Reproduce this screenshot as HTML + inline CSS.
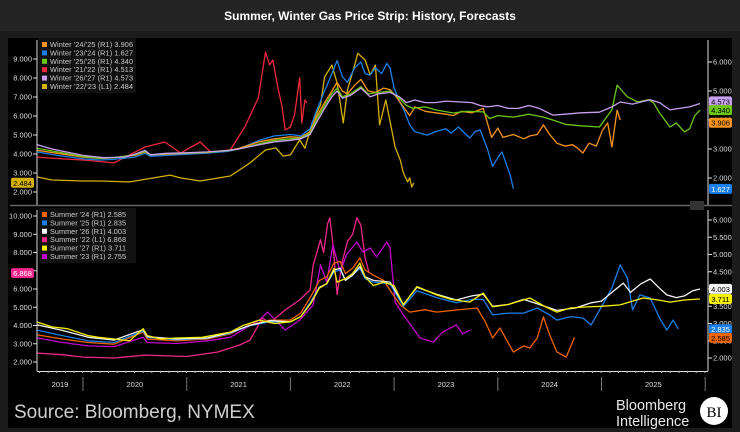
<!DOCTYPE html>
<html><head><meta charset="utf-8"><style>
html,body{margin:0;padding:0;background:#1c1c1c;}
svg{display:block;font-family:"Liberation Sans",sans-serif;}
</style></head><body>
<svg id="chart" width="740" height="432" viewBox="0 0 740 432">
<rect x="0" y="0" width="740" height="432" fill="#1c1c1c"/>
<rect x="0" y="0" width="740" height="31" fill="#242424"/>
<text x="370" y="20" text-anchor="middle" fill="#ffffff" font-size="12" font-weight="bold">Summer, Winter Gas Price Strip: History, Forecasts</text>
<rect x="8" y="38" width="724" height="390" fill="#000"/>
<g id="axes"></g>
<g id="series"></g>
<g id="legends"></g>
<g id="labels"></g>
<text x="14" y="418" fill="#cfcfcf" font-size="19">Source: Bloomberg, NYMEX</text>
<text x="616" y="410" fill="#e8e8e8" font-size="14.5">Bloomberg</text>
<text x="616" y="426" fill="#e8e8e8" font-size="14.5">Intelligence</text>
<circle cx="714" cy="411" r="14" fill="#fff"/>
<text x="714" y="417" text-anchor="middle" fill="#000" font-size="15" font-family="Liberation Serif, serif">BI</text>
</svg>
<script>
// ---------- DATA ----------
const yearLabels = ["2019","2020","2021","2022","2023","2024","2025"];
const topLeftTicks = [2,3,4,5,6,7,8,9];
const topRightTicks = [2,3,4,5,6];
const botLeftTicks = [2,3,4,5,6,7,8,9,10];
const botRightTicks = [2,2.5,3,3.5,4,4.5,5,5.5,6];

const w2425_t = [2019.56,2019.75,2020.0,2020.16,2020.3,2020.5,2020.6,2020.65,2020.8,2021.0,2021.2,2021.4,2021.5,2021.7,2021.85,2022.0,2022.1,2022.19,2022.25,2022.33,2022.4,2022.45,2022.5,2022.55,2022.62,2022.68,2022.75,2022.82,2022.9,2022.96,2023.02,2023.08,2023.15,2023.2,2023.3,2023.4,2023.5,2023.57,2023.65,2023.75,2023.86,2023.9,2023.94,2024.0,2024.05,2024.15,2024.25,2024.31,2024.38,2024.44,2024.5,2024.57,2024.65,2024.72,2024.78,2024.82,2024.88,2024.95,2025.01,2025.06,2025.1,2025.15,2025.18];
const w2425_v = [2.95,2.85,2.72,2.68,2.70,2.78,2.9,2.8,2.82,2.85,2.88,2.95,3.02,3.25,3.35,3.42,3.40,3.6,4.1,4.6,5.0,5.3,5.0,4.9,5.2,5.4,5.0,4.95,5.1,5.05,4.8,4.5,4.15,4.45,4.3,4.25,4.2,4.15,4.3,4.25,4.4,3.9,3.4,3.72,3.4,3.5,3.35,3.45,3.5,3.83,3.5,3.2,3.1,3.15,3.0,2.86,3.2,3.1,3.65,3.9,3.07,4.34,4.0];

const w2324_t = [2019.56,2019.75,2020.0,2020.16,2020.3,2020.5,2020.6,2020.65,2020.8,2021.0,2021.2,2021.4,2021.5,2021.7,2021.85,2022.0,2022.1,2022.19,2022.25,2022.33,2022.4,2022.45,2022.5,2022.55,2022.62,2022.68,2022.72,2022.77,2022.82,2022.88,2022.93,2022.96,2023.0,2023.06,2023.1,2023.15,2023.2,2023.32,2023.4,2023.5,2023.55,2023.62,2023.68,2023.73,2023.78,2023.83,2023.9,2023.95,2024.0,2024.04,2024.08,2024.12,2024.15];
const w2324_v = [2.9,2.78,2.66,2.62,2.64,2.72,2.85,2.75,2.78,2.82,2.86,2.92,3.0,3.3,3.45,3.5,3.45,3.7,4.3,5.0,5.6,6.05,5.5,5.3,5.8,6.0,5.6,5.55,5.8,5.6,5.95,5.8,5.1,4.59,4.3,3.83,3.6,3.48,3.6,3.7,3.55,3.76,3.55,3.38,3.6,3.66,3.0,2.4,2.7,2.9,2.5,2.1,1.63];

const w2526_t = [2019.56,2019.75,2020.0,2020.16,2020.3,2020.5,2020.6,2020.65,2020.8,2021.0,2021.2,2021.4,2021.5,2021.7,2021.85,2022.0,2022.1,2022.19,2022.25,2022.33,2022.4,2022.45,2022.5,2022.58,2022.68,2022.75,2022.85,2022.96,2023.05,2023.12,2023.18,2023.3,2023.4,2023.57,2023.7,2023.86,2023.92,2024.0,2024.15,2024.3,2024.44,2024.53,2024.65,2024.8,2024.98,2025.1,2025.15,2025.2,2025.25,2025.35,2025.45,2025.5,2025.56,2025.66,2025.72,2025.8,2025.85,2025.9,2025.95];
const w2526_v = [3.02,2.9,2.74,2.68,2.7,2.8,2.92,2.8,2.84,2.86,2.89,2.94,3.0,3.18,3.3,3.35,3.38,3.55,4.0,4.5,4.9,5.1,4.8,4.9,5.15,4.9,4.95,5.0,4.75,4.5,4.4,4.45,4.35,4.24,4.3,4.28,4.05,4.15,4.1,4.2,4.1,4.0,3.85,3.8,3.76,4.35,5.2,5.0,4.8,4.62,4.7,4.6,4.24,3.76,3.9,3.59,3.7,4.15,4.34];

const w2122_t = [2019.56,2019.8,2020.0,2020.3,2020.45,2020.6,2020.79,2020.94,2021.13,2021.23,2021.42,2021.56,2021.69,2021.76,2021.8,2021.83,2021.88,2021.92,2021.95,2022.0,2022.04,2022.09,2022.11,2022.14,2022.16];
const w2122_v = [2.72,2.66,2.62,2.52,2.8,3.07,3.24,2.86,3.24,2.9,2.97,3.76,4.76,6.34,5.9,6.07,5.1,4.45,3.66,3.76,4.17,5.45,3.9,4.69,4.59];

const w2627_t = [2019.56,2019.7,2020.0,2020.2,2020.4,2020.5,2020.6,2020.65,2020.8,2021.0,2021.2,2021.4,2021.5,2021.7,2021.85,2022.0,2022.1,2022.19,2022.25,2022.33,2022.4,2022.45,2022.5,2022.58,2022.68,2022.77,2022.85,2022.96,2023.05,2023.12,2023.2,2023.3,2023.4,2023.5,2023.64,2023.75,2023.83,2023.9,2024.0,2024.1,2024.2,2024.3,2024.4,2024.53,2024.65,2024.8,2024.98,2025.1,2025.18,2025.3,2025.47,2025.56,2025.66,2025.75,2025.85,2025.95];
const w2627_v = [3.15,3.0,2.78,2.7,2.72,2.82,2.95,2.8,2.85,2.87,2.9,2.95,3.0,3.15,3.25,3.3,3.35,3.5,3.9,4.4,4.8,5.0,4.75,4.85,5.1,4.8,4.9,4.95,4.8,4.6,4.69,4.6,4.6,4.65,4.62,4.6,4.5,4.45,4.5,4.4,4.4,4.5,4.4,4.17,4.2,4.25,4.27,4.45,4.62,4.55,4.7,4.6,4.35,4.4,4.45,4.57];

const w2223_t = [2019.56,2019.7,2020.0,2020.16,2020.45,2020.84,2020.94,2021.13,2021.42,2021.61,2021.76,2021.86,2021.93,2022.0,2022.09,2022.14,2022.21,2022.29,2022.33,2022.4,2022.45,2022.51,2022.55,2022.62,2022.65,2022.72,2022.77,2022.82,2022.86,2022.92,2023.01,2023.06,2023.09,2023.13,2023.15,2023.17,2023.19];
const w2223_v = [2.79,2.63,2.58,2.58,2.53,2.89,2.74,2.58,2.84,3.53,4.21,4.32,3.89,3.95,4.74,4.3,5.63,6.58,8.05,8.68,7.74,5.63,7.37,8.68,9.3,8.95,8.16,8.68,5.53,6.84,4.37,3.68,3.0,2.53,2.75,2.26,2.48];

const s24_t = [2019.56,2019.8,2020.05,2020.3,2020.58,2020.62,2020.9,2021.2,2021.42,2021.6,2021.8,2022.0,2022.1,2022.2,2022.28,2022.35,2022.42,2022.48,2022.53,2022.6,2022.67,2022.72,2022.8,2022.9,2022.99,2023.06,2023.15,2023.3,2023.41,2023.6,2023.8,2023.88,2023.95,2024.02,2024.15,2024.25,2024.31,2024.38,2024.44,2024.5,2024.57,2024.66,2024.71,2024.74];
const s24_v = [2.67,2.55,2.45,2.4,2.75,2.55,2.5,2.55,2.7,2.95,3.1,3.1,3.3,3.8,4.25,4.35,4.75,4.8,4.45,4.6,4.9,4.55,4.4,4.25,3.83,3.54,3.33,3.4,3.33,3.39,3.45,3.04,2.58,2.87,2.17,2.35,2.29,2.58,3.19,2.67,2.17,2.03,2.38,2.6];

const s25_t = [2019.56,2019.8,2020.05,2020.3,2020.58,2020.62,2020.9,2021.2,2021.42,2021.6,2021.8,2022.0,2022.1,2022.2,2022.28,2022.35,2022.42,2022.48,2022.53,2022.6,2022.67,2022.72,2022.8,2022.96,2023.09,2023.22,2023.41,2023.6,2023.75,2023.86,2023.95,2024.1,2024.25,2024.38,2024.5,2024.57,2024.7,2024.82,2024.9,2025.01,2025.1,2025.18,2025.25,2025.3,2025.37,2025.47,2025.56,2025.63,2025.69,2025.74];
const s25_v = [2.81,2.65,2.5,2.45,2.78,2.6,2.53,2.57,2.72,2.93,3.05,3.05,3.2,3.65,4.05,4.15,4.5,4.55,4.25,4.4,4.6,4.3,4.2,4.15,3.5,3.95,3.75,3.6,3.7,3.7,3.25,3.3,3.3,3.45,3.25,3.1,3.2,3.16,2.96,3.54,4.03,4.7,4.32,3.39,3.83,3.74,3.16,2.81,3.1,2.84];

const s26_t = [2019.56,2019.8,2020.05,2020.3,2020.58,2020.62,2020.9,2021.2,2021.42,2021.6,2021.8,2022.0,2022.1,2022.2,2022.28,2022.35,2022.42,2022.48,2022.53,2022.6,2022.67,2022.72,2022.8,2022.96,2023.09,2023.22,2023.41,2023.6,2023.75,2023.86,2023.95,2024.1,2024.25,2024.4,2024.57,2024.75,2024.9,2025.0,2025.1,2025.21,2025.28,2025.38,2025.47,2025.55,2025.63,2025.72,2025.8,2025.88,2025.95];
const s26_v = [2.96,2.8,2.6,2.52,2.82,2.62,2.55,2.58,2.74,2.94,3.08,3.05,3.2,3.6,4.05,4.15,4.55,4.6,4.25,4.4,4.65,4.35,4.25,4.2,3.55,4.05,3.85,3.68,3.8,3.85,3.5,3.55,3.7,3.55,3.38,3.45,3.6,3.65,3.9,4.17,3.9,4.15,4.29,4.05,3.83,3.75,3.8,3.95,4.0];

const s27_t = [2019.56,2019.7,2019.85,2020.05,2020.15,2020.3,2020.45,2020.58,2020.62,2020.75,2020.9,2021.15,2021.42,2021.55,2021.7,2021.85,2022.0,2022.1,2022.2,2022.28,2022.35,2022.42,2022.45,2022.53,2022.6,2022.67,2022.72,2022.8,2022.9,2023.0,2023.09,2023.22,2023.41,2023.55,2023.73,2023.86,2023.95,2024.1,2024.31,2024.45,2024.57,2024.7,2024.86,2025.0,2025.18,2025.3,2025.4,2025.55,2025.66,2025.8,2025.95];
const s27_v = [3.04,2.9,2.85,2.65,2.6,2.55,2.5,2.85,2.65,2.55,2.58,2.6,2.75,2.95,3.1,3.0,3.05,3.2,3.6,4.03,4.15,4.6,4.2,4.3,4.45,4.75,4.35,4.1,4.2,4.1,3.54,4.07,3.83,3.7,3.62,3.88,3.48,3.55,3.74,3.5,3.33,3.45,3.48,3.5,3.54,3.65,3.74,3.68,3.62,3.68,3.71];

const s22_t = [2019.56,2019.8,2020.0,2020.3,2020.6,2021.0,2021.3,2021.51,2021.61,2021.73,2021.8,2021.95,2022.09,2022.19,2022.22,2022.29,2022.32,2022.36,2022.38,2022.41,2022.45,2022.5,2022.55,2022.6,2022.64,2022.68,2022.72,2022.76];
const s22_v = [2.49,2.4,2.27,2.22,2.38,2.3,2.55,2.93,3.2,4.41,4.14,4.85,5.4,5.95,7.3,8.7,8.0,9.6,9.9,8.5,5.7,7.5,8.6,9.0,9.9,9.5,7.7,6.87];

const s23_t = [2019.56,2019.8,2020.05,2020.3,2020.58,2020.62,2020.9,2021.2,2021.42,2021.7,2021.78,2021.95,2022.09,2022.22,2022.29,2022.35,2022.41,2022.48,2022.54,2022.64,2022.7,2022.77,2022.83,2022.93,2022.96,2023.01,2023.09,2023.25,2023.38,2023.47,2023.6,2023.66,2023.73];
const s23_v = [2.58,2.45,2.35,2.33,2.6,2.45,2.42,2.5,2.6,3.1,3.33,2.81,3.1,3.54,4.7,4.2,5.28,4.49,4.99,5.36,5.07,5.19,4.93,5.36,5.19,3.62,3.25,2.58,2.46,2.75,2.96,2.7,2.81];

const topLegendNames = ["Winter '24/'25  (R1) 3.906","Winter '23/'24  (R1) 1.627","Winter '25/'26  (R1) 4.340","Winter '21/'22  (R1) 4.513","Winter '26/'27  (R1) 4.573","Winter '22/'23  (L1) 2.484"];
const botLegendNames = ["Summer '24  (R1) 2.585","Summer '25  (R1) 2.835","Summer '26  (R1) 4.003","Summer '22  (L1) 6.868","Summer '27  (R1) 3.711","Summer '23  (R1) 2.755"];

// ---------- SCALES ----------
const NS="http://www.w3.org/2000/svg";
const xT = t => 83 + (t-2020)*103.7;
const yTL = v => 192 - (v-2)*19;
const yTR = v => 178 - (v-2)*29;
const yBL = v => 362 - (v-2)*18.25;
const yBR = v => 358 - (v-2)*34.5;

function mk(tag, parent){ const e=document.createElementNS(NS,tag); parent.appendChild(e); return e; }
const axes=document.getElementById('axes'), series=document.getElementById('series'), legends=document.getElementById('legends'), labels=document.getElementById('labels');

[[38,205],[208,371]].forEach(([a,b],i)=>{
  const l=mk('line',axes); l.setAttribute('x1',37);l.setAttribute('x2',37);l.setAttribute('y1',a+2);l.setAttribute('y2',b);l.setAttribute('stroke','#ddd');l.setAttribute('stroke-width','1');
  
  
  const r=mk('line',axes); r.setAttribute('x1',708);r.setAttribute('x2',708);r.setAttribute('y1',a+2);r.setAttribute('y2',b);r.setAttribute('stroke','#ddd');r.setAttribute('stroke-width','1');
  
  
});
const sep=mk('line',axes); sep.setAttribute('x1',10);sep.setAttribute('x2',732);sep.setAttribute('y1',205.5);sep.setAttribute('y2',205.5);sep.setAttribute('stroke','#666');sep.setAttribute('stroke-width','1.5');


const xb=mk('line',axes); xb.setAttribute('x1',37);xb.setAttribute('x2',708);xb.setAttribute('y1',371.5);xb.setAttribute('y2',371.5);xb.setAttribute('stroke','#ddd');


const ic=mk('rect',axes); ic.setAttribute('x',690);ic.setAttribute('y',201);ic.setAttribute('width',14);ic.setAttribute('height',9);ic.setAttribute('fill','#333');



function ticks(arr, yf, side, name){
  arr.forEach(v=>{
    const y=yf(v);
    const tk=mk('line',axes);
    const x0 = side==='L'?33:708, x1= side==='L'?37:712;
    tk.setAttribute('x1',x0);tk.setAttribute('x2',x1);tk.setAttribute('y1',y);tk.setAttribute('y2',y);tk.setAttribute('stroke','#ddd');
    
    
    const t=mk('text',axes);
    t.setAttribute('x', side==='L'?32:713); t.setAttribute('y', y+2.5);
    t.setAttribute('text-anchor', side==='L'?'end':'start');
    t.setAttribute('fill','#ddd'); t.setAttribute('font-size','7.5');
    t.textContent=v.toFixed(3);
    
    
  });
}
ticks(topLeftTicks,yTL,'L','top-left-axis');
ticks(topRightTicks,yTR,'R','top-right-axis');
ticks(botLeftTicks,yBL,'L','bottom-left-axis');
ticks(botRightTicks,yBR,'R','bottom-right-axis');

for(let m=0;m<78;m++){
  const t=2019.58+m/12; const x=xT(t); if(x>707) break;
  const tk=mk('line',axes); tk.setAttribute('x1',x);tk.setAttribute('x2',x);tk.setAttribute('y1',371);tk.setAttribute('y2',373);tk.setAttribute('stroke','#bbb');
  
  
}
yearLabels.forEach((yl,i)=>{
  const yr=+yl;
  const cx = i===0 ? (37+xT(2020))/2 : xT(yr+0.5);
  const t=mk('text',axes); t.setAttribute('x',cx);t.setAttribute('y',387);t.setAttribute('text-anchor','middle');t.setAttribute('fill','#ddd');t.setAttribute('font-size','7.5');t.textContent=yl;
  
  
  const sx=xT(yr+1);
  const s=mk('line',axes); s.setAttribute('x1',sx);s.setAttribute('x2',sx);s.setAttribute('y1',377);s.setAttribute('y2',391);s.setAttribute('stroke','#777');
  
  
});

function drawLine(ts, vs, yf, color, name){
  const p=mk('polyline',series);
  p.setAttribute('points', ts.map((t,i)=>xT(t).toFixed(1)+','+yf(vs[i]).toFixed(1)).join(' '));
  p.setAttribute('fill','none'); p.setAttribute('stroke',color); p.setAttribute('stroke-width','1.3'); p.setAttribute('stroke-linejoin','round');
  
  
}
drawLine(w2223_t,w2223_v,yTL,'#d4b000','winter-22-23-line');
drawLine(w2122_t,w2122_v,yTR,'#f0283c','winter-21-22-line');
drawLine(w2324_t,w2324_v,yTR,'#1a7fe8','winter-23-24-line');
drawLine(w2425_t,w2425_v,yTR,'#f7941d','winter-24-25-line');
drawLine(w2526_t,w2526_v,yTR,'#6cc614','winter-25-26-line');
drawLine(w2627_t,w2627_v,yTR,'#c9a0f0','winter-26-27-line');

drawLine(s22_t,s22_v,yBL,'#f0288c','summer-22-line');
drawLine(s23_t,s23_v,yBR,'#c000c8','summer-23-line');
drawLine(s24_t,s24_v,yBR,'#f06400','summer-24-line');
drawLine(s25_t,s25_v,yBR,'#1a7fe8','summer-25-line');
drawLine(s26_t,s26_v,yBR,'#f4f4f4','summer-26-line');
drawLine(s27_t,s27_v,yBR,'#f5f000','summer-27-line');

function legend(y0, names, colors, nm){
  const bg=mk('rect',legends); bg.setAttribute('x',39);bg.setAttribute('y',y0-5);bg.setAttribute('width',97);bg.setAttribute('height',55);bg.setAttribute('fill','#111');
  
  
  names.forEach((n,i)=>{
    const y=y0+i*8.4;
    const sq=mk('rect',legends); sq.setAttribute('x',42);sq.setAttribute('y',y-1);sq.setAttribute('width',5);sq.setAttribute('height',5);sq.setAttribute('fill',colors[i]);
    
    
    const t=mk('text',legends); t.setAttribute('x',50);t.setAttribute('y',y+4);t.setAttribute('fill','#ccc');t.setAttribute('font-size','7.3');t.setAttribute('textLength', nm==='top'?83:76);t.setAttribute('xml:space','preserve');t.textContent=n;
    
    
  });
}
legend(43, topLegendNames, ['#f7941d','#1a7fe8','#6cc614','#f0283c','#c9a0f0','#d4b000'],'top');
legend(213, botLegendNames, ['#f06400','#1a7fe8','#f4f4f4','#f0288c','#f5f000','#c000c8'],'bottom');

function tag(x, y, txt, bg, fg, name){
  const r=mk('rect',labels); r.setAttribute('x',x);r.setAttribute('y',y-5);r.setAttribute('width',23);r.setAttribute('height',10);r.setAttribute('rx',2);r.setAttribute('fill',bg);
  
  
  const t=mk('text',labels); t.setAttribute('x',x+11.5);t.setAttribute('y',y+3);t.setAttribute('text-anchor','middle');t.setAttribute('fill',fg);t.setAttribute('font-size','7.5');t.textContent=txt;
  
  
}
tag(709, yTR(4.513), '4.513', '#f0283c', '#fff', 'winter-21-22-value-tag');
tag(709, yTR(4.573)-2, '4.573', '#c9a0f0', '#000', 'winter-26-27-value-tag');
tag(709, yTR(4.340), '4.340', '#6cc614', '#000', 'winter-25-26-value-tag');
tag(709, yTR(3.906), '3.906', '#f7941d', '#000', 'winter-24-25-value-tag');
tag(709, yTR(1.627), '1.627', '#1a7fe8', '#fff', 'winter-23-24-value-tag');
tag(11, yTL(2.484), '2.484', '#d4b000', '#000', 'winter-22-23-value-tag');
tag(709, yBR(4.003), '4.003', '#f4f4f4', '#000', 'summer-26-value-tag');
tag(709, yBR(3.711), '3.711', '#f5f000', '#000', 'summer-27-value-tag');
tag(709, yBR(2.835), '2.835', '#1a7fe8', '#fff', 'summer-25-value-tag');
tag(709, yBR(2.585), '2.585', '#f06400', '#000', 'summer-24-value-tag');
tag(11, yBL(6.868), '6.868', '#f0288c', '#fff', 'summer-22-value-tag');
</script>
</body></html>
